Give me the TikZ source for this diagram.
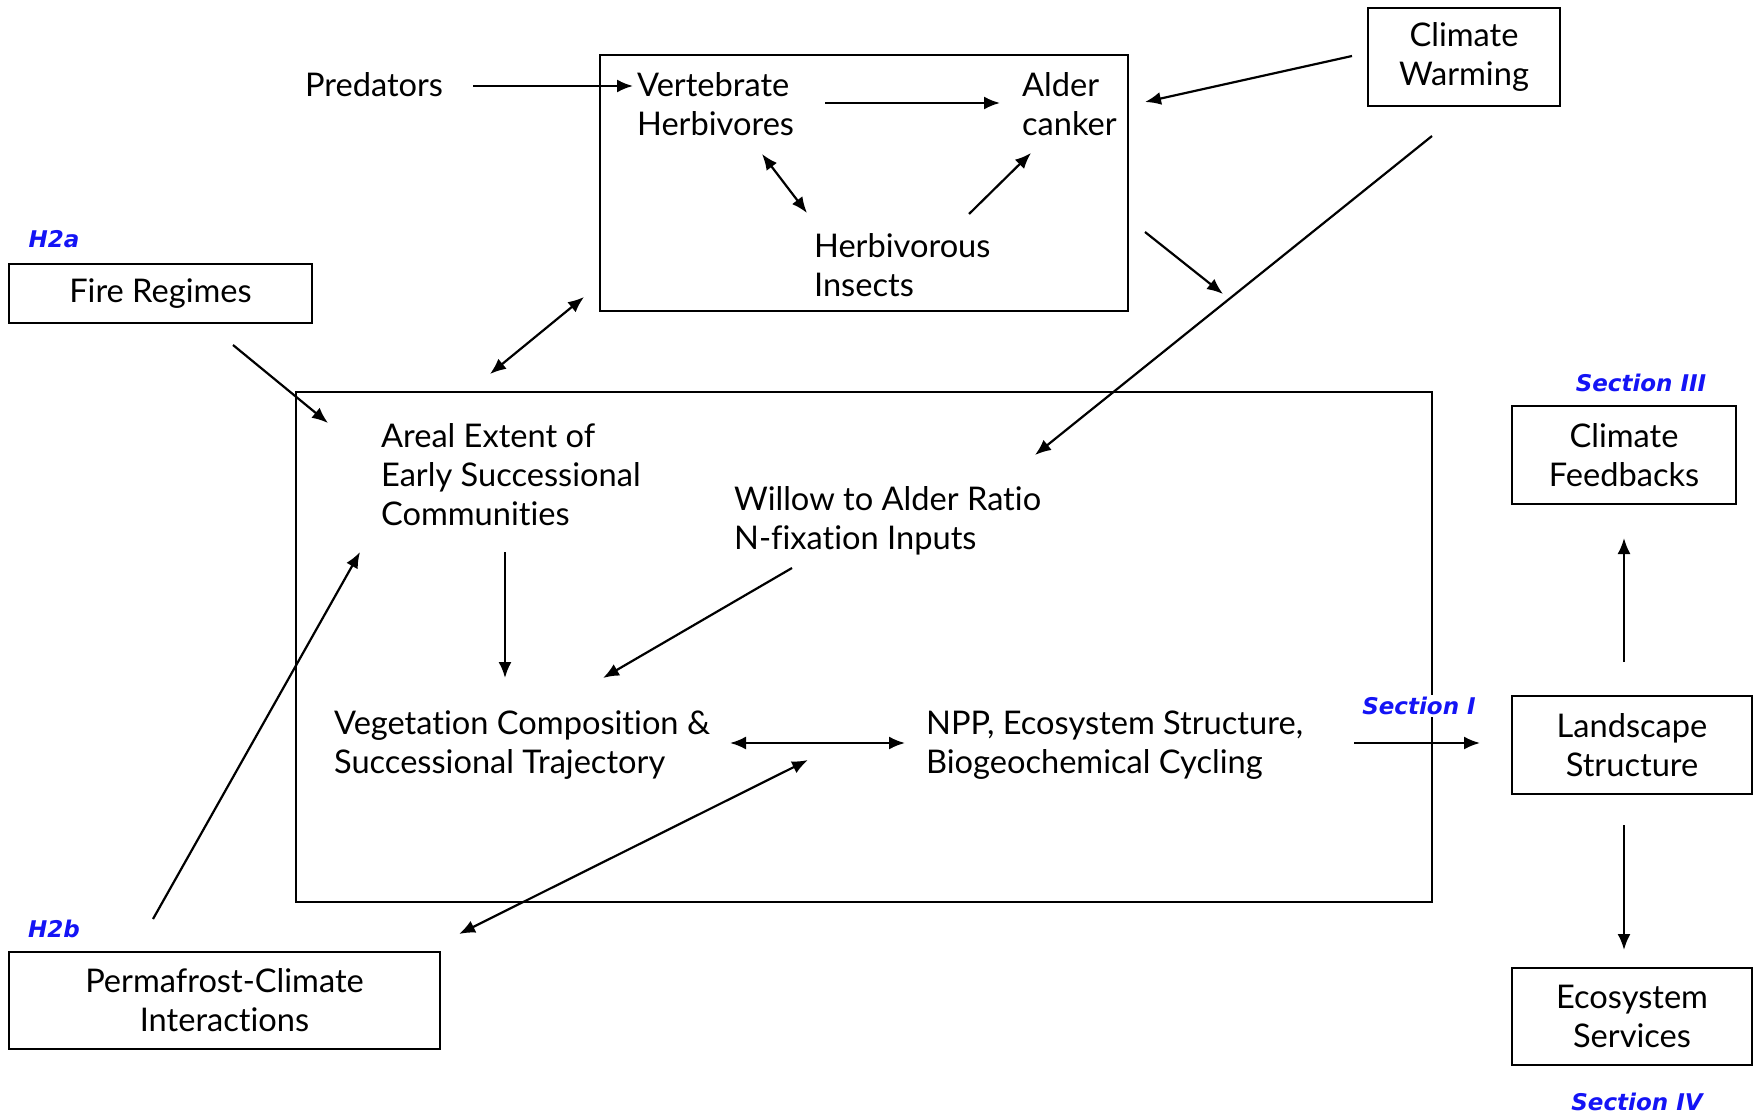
\documentclass[tikz,border=0pt]{standalone}
\usepackage{fontspec}
\setmainfont{Lato}[Ligatures={NoCommon}]
\newfontfamily\labfont{DejaVu Sans}
\usetikzlibrary{arrows.meta}
\definecolor{secblue}{RGB}{20,20,245}
\begin{document}
\begin{tikzpicture}[x=0.5pt,y=-0.5pt,
  line width=1.1pt,
  txt/.style={font=\fontsize{16.3}{19.5}\selectfont, align=left, inner sep=0pt},
  box/.style={draw, line width=1.1pt, font=\fontsize{16.3}{19.5}\selectfont, align=center, inner sep=0pt},
  frame/.style={draw, line width=1.1pt, inner sep=0pt},
  lab/.style={font=\labfont\fontsize{11.5}{14}\selectfont\bfseries\itshape, text=secblue, inner sep=1pt},
  arr/.style={-{Latex[length=8pt,width=6.5pt]}},
  darr/.style={{Latex[length=8pt,width=6.5pt]}-{Latex[length=8pt,width=6.5pt]}}]
\useasboundingbox (0,0) rectangle (1760,1117);

% frames
\node[frame, minimum width=264pt, minimum height=128pt] (topbox) at (864,183) {};
\node[frame, minimum width=568pt, minimum height=255pt] (bigbox) at (864,647) {};

% boxes
\node[box, minimum width=151.5pt, minimum height=29.5pt] (fire) at (160.5,293.5) {Fire Regimes};
\node[box, minimum width=96pt, minimum height=49pt] (warm) at (1464,57) {Climate\\Warming};
\node[box, minimum width=112pt, minimum height=49pt] (feed) at (1624,455) {Climate\\Feedbacks};
\node[box, minimum width=120pt, minimum height=49pt] (land) at (1632,745) {Landscape\\Structure};
\node[box, minimum width=120pt, minimum height=48.5pt] (eco) at (1632,1016.5) {Ecosystem\\Services};
\node[box, minimum width=215.5pt, minimum height=48.5pt] (perma) at (224.5,1000.5) {Permafrost-Climate\\Interactions};

% texts
\node[txt] (pred) at (374,85) {Predators};
\node[txt, anchor=west] (vert) at (636,104) {Vertebrate\\Herbivores};
\node[txt, anchor=west] (alder) at (1021,104) {Alder\\canker};
\node[txt, anchor=west] (insect) at (813,265) {Herbivorous\\Insects};
\node[txt, anchor=west] (areal) at (380,475) {Areal Extent of\\Early Successional\\Communities};
\node[txt, anchor=west] (willow) at (733,521) {Willow to Alder Ratio\\N-fixation Inputs};
\node[txt, anchor=west] (veg) at (333,745) {Vegetation Composition \&\\Successional Trajectory};
\node[txt, anchor=west] (npp) at (925,745) {NPP, Ecosystem Structure,\\Biogeochemical Cycling};

% labels
\node[lab] (h2a) at (54,239) {H2a};
\node[lab] (h2b) at (54,929) {H2b};
\node[lab, fill=white] (s1) at (1419,706) {Section I};
\node[lab] (s3) at (1641,383) {Section III};
\node[lab] (s4) at (1637,1102) {Section IV};

% coordinates
\coordinate (p1) at (473,86); \coordinate (p2) at (633,86);
\coordinate (a1) at (825,103); \coordinate (a2) at (1000,103);
\coordinate (b1) at (762,154); \coordinate (b2) at (807,213);
\coordinate (c1) at (969,214); \coordinate (c2) at (1031,153);
\coordinate (d1) at (1352,56); \coordinate (d2) at (1145,102);
\coordinate (e1) at (1145,232); \coordinate (e2) at (1223,294);
\coordinate (f1) at (1432,136); \coordinate (f2) at (1035,455);
\coordinate (g1) at (490,374); \coordinate (g2) at (584,297);
\coordinate (h1) at (233,345); \coordinate (h2) at (328,423);
\coordinate (i1) at (153,919); \coordinate (i2) at (360,552);
\coordinate (j1) at (505,552); \coordinate (j2) at (505,678);
\coordinate (k1) at (792,568); \coordinate (k2) at (603,678);
\coordinate (l1) at (730,743); \coordinate (l2) at (905,743);
\coordinate (m1) at (808,760); \coordinate (m2) at (459,934);
\coordinate (n1) at (1354,743); \coordinate (n2) at (1480,743);
\coordinate (o1) at (1624,662); \coordinate (o2) at (1624,538);
\coordinate (q1) at (1624,825); \coordinate (q2) at (1624,950);

% connectors
\draw[arr] (p1) -- (p2);
\draw[arr] (a1) -- (a2);
\draw[darr] (b1) -- (b2);
\draw[arr] (c1) -- (c2);
\draw[arr] (d1) -- (d2);
\draw[arr] (e1) -- (e2);
\draw[arr] (f1) -- (f2);
\draw[darr] (g1) -- (g2);
\draw[arr] (h1) -- (h2);
\draw[arr] (i1) -- (i2);
\draw[arr] (j1) -- (j2);
\draw[arr] (k1) -- (k2);
\draw[darr] (l1) -- (l2);
\draw[darr] (m1) -- (m2);
\draw[arr] (n1) -- (n2);
\draw[arr] (o1) -- (o2);
\draw[arr] (q1) -- (q2);
\end{tikzpicture}
\end{document}
